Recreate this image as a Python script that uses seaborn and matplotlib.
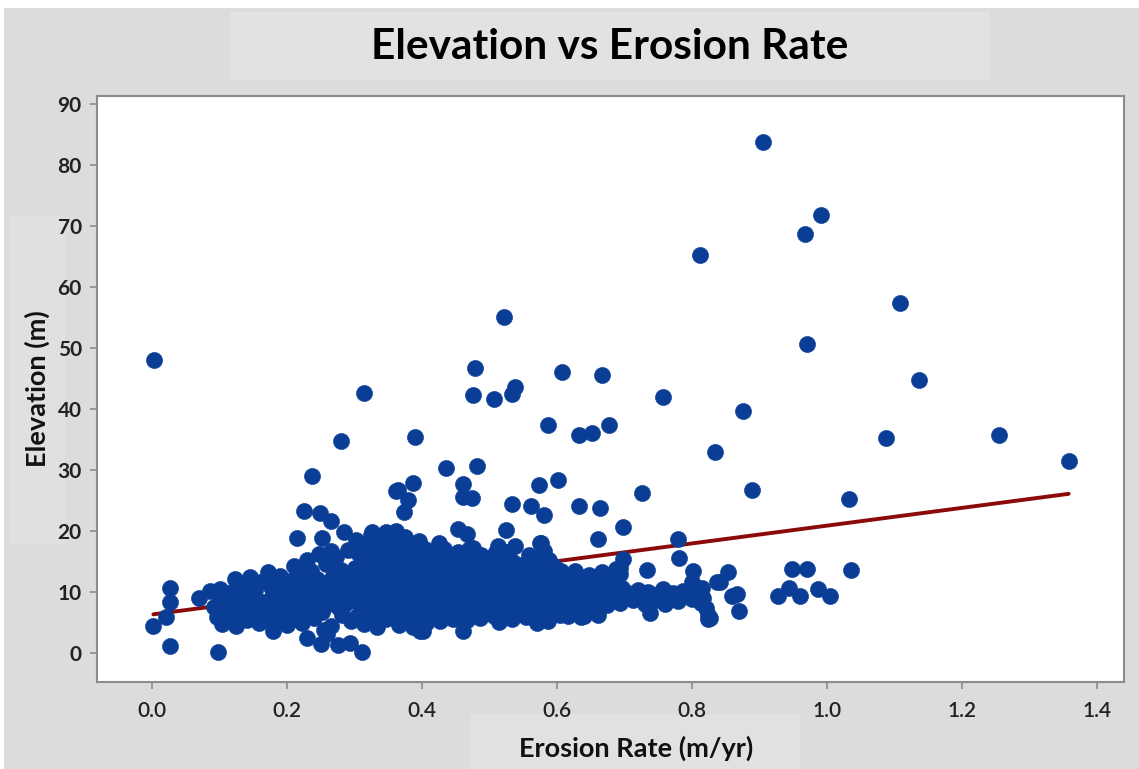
import matplotlib
matplotlib.use("Agg")
import matplotlib.pyplot as plt
from matplotlib.patches import Rectangle
import numpy as np
import pandas as pd
import seaborn as sns

# ---- data: (erosion rate m/yr, elevation m) ----
isolated = [
    (0.003, 48.1), (0.002, 4.4), (0.021, 5.9), (0.027, 10.7), (0.027, 8.4),
    (0.027, 1.2), (0.098, 0.1), (0.069, 9.1), (0.086, 10.2),
    (0.179, 3.6), (0.180, 5.0), (0.229, 2.5), (0.251, 1.4), (0.259, 3.1),
    (0.276, 1.3), (0.293, 1.7), (0.311, 0.1), (0.397, 3.6), (0.401, 3.6),
    (0.460, 3.6), (0.570, 5.0), (0.617, 6.1), (0.636, 5.9), (0.538, 6.3),
]
upper = [
    (0.905, 83.7), (0.991, 71.8), (0.967, 68.6), (0.812, 65.2), (1.108, 57.3),
    (0.521, 55.0), (0.970, 50.7), (0.479, 46.7), (0.608, 46.0), (0.667, 45.6),
    (1.136, 44.7), (0.538, 43.6), (0.534, 42.5), (0.314, 42.6), (0.475, 42.3),
    (0.506, 41.6), (0.757, 41.9), (0.875, 39.6), (0.587, 37.4), (0.677, 37.4),
    (0.652, 36.0), (0.633, 35.7), (0.389, 35.4), (0.280, 34.7), (1.087, 35.3),
    (1.255, 35.8), (0.834, 33.0), (1.358, 31.4), (0.481, 30.6), (0.435, 30.3),
    (0.237, 29.0), (0.602, 28.4), (0.386, 27.9), (0.460, 27.7), (0.574, 27.6),
    (0.889, 26.8), (0.364, 26.8), (0.362, 26.6), (0.726, 26.2), (1.033, 25.3),
    (0.460, 25.5), (0.474, 25.4), (0.379, 25.1), (0.534, 24.5), (0.561, 24.1),
    (0.633, 24.1), (0.664, 23.8), (0.225, 23.2), (0.373, 23.1), (0.249, 22.9),
    (0.580, 22.7), (0.265, 21.7), (0.698, 20.6), (0.524, 20.1), (0.454, 20.3),
    (0.361, 20.0), (0.346, 19.9), (0.326, 19.9), (0.284, 19.8), (0.466, 19.5),
    (0.215, 18.9), (0.252, 18.8), (0.779, 18.7), (0.660, 18.7), (0.577, 18.1),
    (0.575, 18.1), (0.580, 16.7), (0.538, 17.6), (0.513, 17.6), (0.510, 16.5),
    (0.469, 17.0), (0.781, 15.6), (0.698, 15.4), (0.693, 14.0), (0.733, 13.6),
]
right_group = [
    (1.036, 13.6), (0.948, 13.8), (0.970, 13.8), (0.927, 9.4), (0.944, 10.6),
    (0.960, 9.4), (0.987, 10.5), (1.004, 9.4), (0.854, 13.3), (0.841, 11.6),
    (0.859, 9.4), (0.866, 9.6), (0.869, 6.9), (0.802, 13.5), (0.800, 11.6),
    (0.837, 11.6), (0.817, 9.1), (0.826, 5.8), (0.824, 5.5), (0.738, 6.6),
]
core_left = [
    (0.092, 7.6), (0.096, 5.9), (0.100, 9.1), (0.104, 4.8), (0.108, 7.0),
    (0.112, 9.8), (0.116, 6.2), (0.120, 8.3), (0.124, 4.5), (0.128, 10.0),
    (0.132, 6.8), (0.136, 8.9), (0.140, 5.4), (0.144, 9.6), (0.148, 7.5),
    (0.101, 10.5), (0.123, 12.1), (0.145, 12.4), (0.138, 10.8), (0.118, 9.9),
    (0.152, 10.3), (0.156, 6.1), (0.160, 11.6), (0.164, 8.4), (0.168, 6.6),
    (0.172, 13.2), (0.176, 10.9), (0.180, 7.9), (0.184, 5.8), (0.188, 9.7),
    (0.190, 12.6), (0.193, 8.6), (0.196, 6.7), (0.198, 11.0), (0.200, 4.6),
    (0.158, 5.0), (0.178, 9.2), (0.195, 5.3), (0.185, 11.8),
]
core_mid = [
    (0.202, 7.9), (0.205, 11.8), (0.207, 9.3), (0.210, 14.2), (0.212, 6.1),
    (0.215, 10.5), (0.218, 12.9), (0.220, 8.4), (0.222, 4.9), (0.225, 11.1),
    (0.228, 9.7), (0.230, 15.3), (0.232, 7.0), (0.235, 13.4), (0.238, 10.2),
    (0.240, 5.8), (0.242, 8.8), (0.245, 12.1), (0.248, 16.2), (0.250, 9.9),
    (0.252, 6.8), (0.255, 11.5), (0.258, 14.6), (0.260, 8.0), (0.262, 10.8),
    (0.265, 4.4), (0.268, 12.7), (0.270, 9.2), (0.272, 15.8), (0.275, 7.5),
    (0.278, 11.0), (0.280, 13.6), (0.282, 6.3), (0.285, 10.0), (0.288, 8.6),
    (0.290, 16.9), (0.292, 12.3), (0.295, 5.2), (0.297, 9.5), (0.300, 14.0),
    (0.299, 11.2), (0.215, 13.9), (0.235, 8.1), (0.255, 3.8), (0.265, 16.8),
    (0.283, 7.9), (0.245, 10.6), (0.270, 13.0), (0.225, 6.7), (0.258, 9.0),
]
core_dense = [
    (0.303, 6.0), (0.306, 8.7), (0.304, 11.3), (0.307, 13.9), (0.305, 16.4), (0.302, 18.5),
    (0.314, 4.8), (0.316, 7.4), (0.313, 10.0), (0.317, 12.6), (0.315, 15.2), (0.312, 17.6),
    (0.326, 5.9), (0.323, 8.5), (0.327, 11.1), (0.324, 13.7), (0.328, 16.0), (0.325, 19.3),
    (0.334, 4.2), (0.337, 7.1), (0.333, 9.6), (0.336, 12.2), (0.338, 14.8), (0.335, 17.3),
    (0.346, 5.6), (0.343, 8.2), (0.347, 10.9), (0.344, 13.4), (0.348, 15.9), (0.345, 18.8),
    (0.353, 6.6), (0.357, 9.2), (0.354, 11.8), (0.356, 14.3), (0.352, 16.9),
    (0.366, 4.6), (0.363, 7.7), (0.367, 10.4), (0.364, 13.0), (0.368, 15.5), (0.365, 18.1),
    (0.374, 5.8), (0.377, 8.9), (0.373, 11.5), (0.376, 14.0), (0.378, 16.6), (0.375, 19.0),
    (0.386, 4.3), (0.383, 7.2), (0.387, 9.9), (0.384, 12.5), (0.388, 15.1), (0.385, 17.7),
    (0.393, 6.1), (0.397, 8.6), (0.394, 11.2), (0.396, 13.8), (0.392, 16.3), (0.395, 18.4),
    (0.406, 5.0), (0.403, 7.8), (0.407, 10.3), (0.404, 12.9), (0.408, 15.4), (0.405, 17.1),
    (0.414, 6.4), (0.417, 9.1), (0.413, 11.7), (0.416, 14.2), (0.418, 16.8),
    (0.426, 5.3), (0.423, 8.0), (0.427, 10.6), (0.424, 13.3), (0.428, 15.7), (0.425, 18.0),
    (0.433, 6.9), (0.437, 9.4), (0.434, 12.0), (0.436, 14.6), (0.432, 17.0),
    (0.446, 5.5), (0.443, 8.3), (0.447, 10.8), (0.444, 13.5), (0.448, 16.1),
    (0.309, 9.9), (0.331, 12.9), (0.350, 7.5), (0.371, 10.1), (0.389, 13.2),
    (0.411, 8.4), (0.429, 11.6), (0.441, 7.1), (0.319, 14.4), (0.359, 12.6),
    (0.381, 6.4), (0.401, 10.9), (0.421, 14.8), (0.339, 10.4), (0.399, 15.9),
]
core_fill = [
    (0.222, 9.1), (0.226, 8.2), (0.231, 10.4), (0.236, 9.6), (0.241, 8.5),
    (0.246, 10.9), (0.251, 9.3), (0.256, 8.0), (0.261, 10.1), (0.266, 9.5),
    (0.271, 8.4), (0.276, 10.6), (0.281, 9.0), (0.286, 8.1), (0.291, 10.3),
    (0.296, 9.7), (0.301, 8.6), (0.306, 10.8), (0.311, 9.2), (0.316, 8.3),
    (0.321, 10.0), (0.326, 9.4), (0.331, 8.7), (0.336, 10.5), (0.341, 9.1),
    (0.346, 8.0), (0.351, 10.2), (0.356, 9.6), (0.361, 8.5), (0.366, 10.7),
    (0.371, 9.3), (0.376, 8.2), (0.381, 10.1), (0.386, 9.5), (0.391, 8.8),
    (0.396, 10.4), (0.401, 9.0), (0.406, 8.1), (0.411, 10.6), (0.416, 9.7),
    (0.421, 8.4), (0.426, 10.9), (0.431, 9.2), (0.436, 8.6), (0.441, 10.3),
    (0.446, 9.4), (0.451, 8.0), (0.456, 10.0), (0.461, 9.6), (0.466, 8.7),
    (0.471, 10.5), (0.476, 9.1), (0.481, 8.3), (0.486, 10.2), (0.491, 9.8),
    (0.496, 8.5), (0.501, 10.7), (0.506, 9.3), (0.511, 8.2), (0.516, 10.1),
    (0.521, 9.5), (0.526, 8.8), (0.531, 10.4), (0.536, 9.0), (0.541, 8.4),
    (0.546, 10.6), (0.551, 9.7), (0.556, 8.1), (0.561, 10.0), (0.566, 9.2),
    (0.571, 8.6), (0.576, 10.3), (0.581, 9.4), (0.586, 8.3), (0.591, 10.8),
    (0.596, 9.6), (0.601, 8.9), (0.606, 10.2), (0.611, 9.1), (0.616, 8.5),
    (0.332, 9.9), (0.352, 8.9), (0.372, 9.8), (0.392, 9.3), (0.412, 8.9),
    (0.432, 9.9), (0.452, 9.1), (0.472, 9.6), (0.492, 8.9), (0.512, 9.5),
    (0.362, 9.4), (0.382, 8.6), (0.402, 9.7), (0.422, 9.5), (0.442, 8.9),
    (0.462, 10.4), (0.482, 9.0), (0.502, 9.2), (0.522, 10.2), (0.542, 9.4),
]
core_right = [
    (0.455, 6.2), (0.457, 8.8), (0.453, 11.4), (0.456, 14.0), (0.454, 16.5),
    (0.466, 5.4), (0.463, 7.9), (0.467, 10.5), (0.464, 13.1), (0.468, 15.6),
    (0.474, 6.7), (0.477, 9.3), (0.473, 11.9), (0.476, 14.5), (0.475, 17.2),
    (0.486, 5.8), (0.483, 8.4), (0.487, 11.0), (0.484, 13.6), (0.488, 16.0),
    (0.494, 7.0), (0.497, 9.6), (0.493, 12.2), (0.496, 14.8),
    (0.506, 6.0), (0.503, 8.6), (0.507, 11.2), (0.504, 13.8), (0.508, 16.3),
    (0.514, 5.1), (0.517, 7.6), (0.513, 10.1), (0.516, 12.7), (0.518, 15.2),
    (0.526, 6.5), (0.523, 9.0), (0.527, 11.6), (0.524, 14.1), (0.528, 16.6),
    (0.534, 5.6), (0.537, 8.1), (0.533, 10.7), (0.536, 13.2), (0.535, 15.0),
    (0.546, 6.9), (0.543, 9.5), (0.547, 12.0), (0.544, 14.4),
    (0.554, 5.9), (0.557, 8.3), (0.553, 10.9), (0.556, 13.4), (0.558, 16.0),
    (0.566, 7.3), (0.563, 9.8), (0.567, 12.3), (0.564, 14.7),
    (0.574, 6.2), (0.577, 8.7), (0.573, 11.3), (0.576, 13.8), (0.578, 16.1),
    (0.586, 5.3), (0.583, 7.8), (0.587, 10.2), (0.584, 12.8), (0.588, 15.3),
    (0.594, 6.8), (0.597, 9.3), (0.593, 11.8), (0.596, 14.2),
    (0.461, 9.8), (0.481, 12.6), (0.501, 10.4), (0.521, 8.2), (0.541, 11.0),
    (0.561, 10.6), (0.581, 9.4), (0.491, 7.6), (0.511, 13.0), (0.551, 12.2),
]
core_tail = [
    (0.605, 6.3), (0.607, 8.7), (0.603, 11.1), (0.606, 13.5),
    (0.614, 7.6), (0.617, 10.0), (0.613, 12.4),
    (0.626, 8.5), (0.623, 10.9), (0.627, 13.4),
    (0.634, 7.2), (0.637, 9.6), (0.633, 12.0),
    (0.646, 8.1), (0.643, 10.5), (0.647, 12.8),
    (0.654, 7.0), (0.657, 9.3), (0.653, 11.7),
    (0.666, 8.4), (0.663, 10.8), (0.667, 13.2),
    (0.674, 7.8), (0.677, 10.1), (0.673, 12.5),
    (0.686, 8.9), (0.683, 11.3), (0.687, 13.8),
    (0.694, 8.2), (0.697, 10.6), (0.693, 12.9),
    (0.660, 6.2), (0.640, 6.0),
    (0.705, 9.8), (0.712, 8.7), (0.720, 10.4), (0.728, 9.1), (0.735, 10.0),
    (0.742, 8.6), (0.750, 9.6), (0.757, 10.5), (0.764, 9.0), (0.772, 9.9),
    (0.779, 8.5), (0.786, 10.2), (0.793, 9.3), (0.800, 8.8), (0.807, 9.9),
    (0.814, 8.2), (0.820, 7.3), (0.823, 6.3), (0.815, 10.6), (0.790, 9.7),
    (0.760, 8.1), (0.730, 8.0),
]

groups = [isolated, upper, right_group, core_left, core_mid, core_dense,
          core_fill, core_right, core_tail]
df = pd.DataFrame([p for g in groups for p in g], columns=["Erosion Rate", "Elevation"])

# ---- styling ----
sns.set_theme(style="white")
plt.rcParams["font.family"] = ["Lato", "DejaVu Sans"]

fig = plt.figure(figsize=(11.39, 7.69), dpi=100)
fig.patch.set_facecolor("white")
W, H = 1139, 769

def band(x0, y0, x1, y1, color):
    fig.patches.append(Rectangle((x0 / W, 1 - y1 / H), (x1 - x0) / W, (y1 - y0) / H,
                                 transform=fig.transFigure, facecolor=color,
                                 edgecolor="none", zorder=-10))

band(4, 8, W, H, "#dcdcdc")          # outer panel
band(230, 12, 990, 80, "#e2e2e2")    # title box
band(470, 714, 800, H, "#e1e1e1")    # x label box
band(10, 215, 65, 545, "#e0e0e0")    # y label box

ax = fig.add_axes([97 / W, 1 - 682 / H, (1124 - 97) / W, (682 - 96) / H])
ax.set_zorder(5)
ax.set_facecolor("white")

point_color = "#0a3e96"
sns.scatterplot(data=df, x="Erosion Rate", y="Elevation", ax=ax, color=point_color,
                s=135, edgecolor=point_color, linewidth=0.4, zorder=2)
sns.regplot(data=df, x="Erosion Rate", y="Elevation", ax=ax, scatter=False, ci=None,
            truncate=True, line_kws=dict(color="#8b0a0a", lw=2.8, zorder=1.5))

ax.set_xlim(-0.0815, 1.44)
ax.set_ylim(-4.75, 91.3)
ax.set_xticks(np.arange(0, 1.41, 0.2))
ax.set_xticklabels([f"{v:.1f}" for v in np.arange(0, 1.41, 0.2)])
ax.set_yticks(np.arange(0, 91, 10))

for side in ["left", "bottom", "top", "right"]:
    ax.spines[side].set_visible(True)
    ax.spines[side].set_color("#8c8c8c")
    ax.spines[side].set_linewidth(1.5)

ax.tick_params(axis="both", which="major", direction="out", length=5, width=1.2,
               color="#8c8c8c", bottom=True, left=True)
ax.tick_params(axis="x", labelsize=15, pad=9, labelcolor="#222222")
ax.tick_params(axis="y", labelsize=15, pad=6, labelcolor="#222222")
for lab in ax.get_yticklabels():
    lab.set_fontweight("bold")
for lab in ax.get_xticklabels():
    lab.set_fontweight("semibold")

ax.set_xlabel("")
ax.set_ylabel("")
fig.text(636 / W, 1 - 748 / H, "Erosion Rate (m/yr)", ha="center", va="center",
         fontsize=19.5, fontweight="bold", color="#111111")
fig.text(37 / W, 1 - 389 / H, "Elevation (m)", ha="center", va="center",
         rotation=90, fontsize=19.5, fontweight="bold", color="#111111")
fig.text(610 / W, 1 - 47 / H, "Elevation vs Erosion Rate", ha="center", va="center",
         fontsize=30.5, fontweight="bold", color="#000000")

fig.savefig("out.png", dpi=100)
